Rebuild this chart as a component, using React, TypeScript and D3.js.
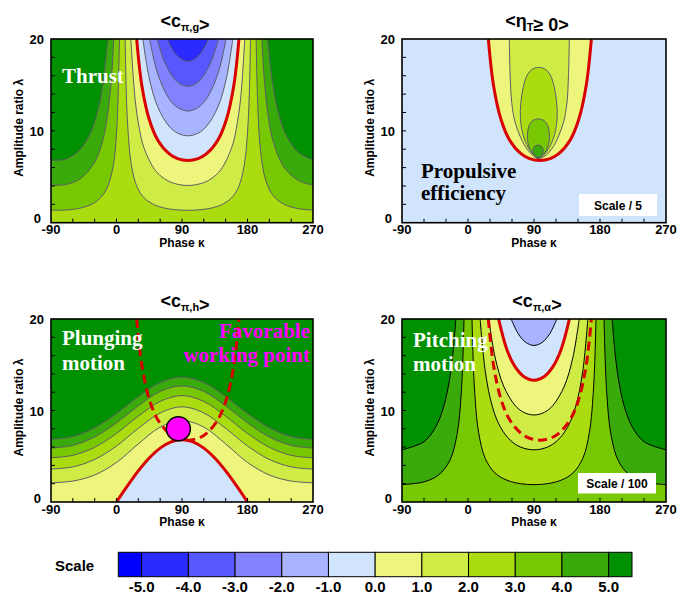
import React from 'react';
import * as d3 from 'd3';

type Pt = [number, number];

// colour of each band of the scale, index = lower level + 6
const bandColors = ['#0000FF', '#2B2BFF', '#5757FF', '#8282FF', '#A8B4FF', '#D0E4FC',
  '#EEF57C', '#CFEB45', '#AADC10', '#77C800', '#3AA90A', '#009000'];
const scaleLevels = [-5, -4, -3, -2, -1, 0, 1, 2, 3, 4, 5];
const phaseTicks = [-90, 0, 90, 180, 270];
const ratioTicks = [0, 10, 20];

// <c_pi,g> : contour lines as [phase kappa, amplitude ratio lambda]
const gLeft3: Pt[] = [[-90, 1.37], [-70, 1.38], [-50, 1.59], [-30, 2.19], [-15, 3.46], [-5, 6.0], [0, 9.7], [4.1, 20]];
const gLeft4: Pt[] = [[-90, 4.09], [-70, 4.15], [-50, 4.78], [-30, 6.58], [-20, 8.64], [-15, 10.37], [-8, 14.7], [-3.7, 20]];
const gLeft5: Pt[] = [[-90, 6.83], [-70, 6.91], [-50, 7.97], [-35, 9.91], [-25, 12.41], [-20, 14.4], [-11.75, 20]];
const gRight3: Pt[] = [[270, 1.37], [250, 1.53], [230, 2.02], [215, 2.98], [205, 4.62], [198, 7.78], [194, 12.9], [191.9, 20]];
const gRight4: Pt[] = [[270, 4.09], [250, 4.59], [230, 6.06], [215, 8.93], [208, 11.85], [203, 15.66], [199.7, 20]];
const gRight5: Pt[] = [[270, 6.83], [250, 7.65], [235, 9.24], [225, 11.22], [215, 14.88], [207.75, 20]];
const gU2: Pt[] = [[11.9, 20], [14.9, 11.26], [20.7, 6.14], [28.5, 3.86], [38, 2.7], [52.4, 1.93], [66.2, 1.59], [79.8, 1.42], [98, 1.35],
  [116.2, 1.42], [129.8, 1.59], [143.6, 1.93], [158, 2.7], [167.5, 3.86], [175.3, 6.14], [181.1, 11.26], [184.1, 20]];
const gU1: Pt[] = [[19.7, 20], [25.5, 13.5], [31.6, 10.14], [38, 8.11], [52.4, 5.79], [66.2, 4.77], [79.8, 4.27], [98, 4.05],
  [116.2, 4.27], [129.8, 4.77], [143.6, 5.79], [158, 8.11], [164.4, 10.14], [170.5, 13.5], [176.3, 20]];
const gU0: Pt[] = [[27.75, 20], [34.7, 15.0], [44.9, 11.26], [56.6, 9.01], [72.2, 7.51], [83.9, 6.97], [98, 6.76],
  [112.1, 6.97], [123.8, 7.51], [139.4, 9.01], [151.1, 11.26], [161.3, 15.0], [168.25, 20]];
const gUm1: Pt[] = [[36.2, 20], [44.9, 15.77], [56.6, 12.61], [72.2, 10.51], [83.9, 9.75], [98, 9.46],
  [112.1, 9.75], [123.8, 10.51], [139.4, 12.61], [151.1, 15.77], [159.8, 20]];
const gUm2: Pt[] = [[45.45, 20], [56.6, 16.22], [72.2, 13.51], [83.9, 12.54], [98, 12.16], [112.1, 12.54], [123.8, 13.51], [139.4, 16.22], [150.55, 20]];
const gUm3: Pt[] = [[56, 20], [66.2, 17.48], [79.8, 15.64], [89.9, 15.01], [98, 14.86], [106.1, 15.01], [116.2, 15.64], [129.8, 17.48], [140, 20]];
const gUm4: Pt[] = [[69.5, 20], [79.8, 18.49], [89.9, 17.75], [98, 17.57], [106.1, 17.75], [116.2, 18.49], [126.5, 20]];

// <eta_T >= 0>
const etaU1: Pt[] = [[56.3, 20], [57.5, 16], [59.6, 13.1], [64, 11], [70.9, 9.44], [78, 8.3], [84.5, 7.62], [90.5, 7.2], [97, 7.0],
  [103.5, 7.2], [110, 7.62], [116.5, 8.3], [123.6, 9.44], [130.5, 11], [135, 13.1], [137, 16], [138.2, 20]];
const etaEgg2: Pt[] = [[96.5, 7.05], [90, 7.35], [82, 8.2], [75, 9.6], [71.5, 11.3], [72, 13], [75.5, 14.8], [81, 16.1], [88.5, 16.75], [96.5, 16.9],
  [104.5, 16.75], [112, 16.1], [117.5, 14.8], [121, 13], [121.5, 11.3], [118, 9.6], [111, 8.2], [103, 7.35]];
const etaEgg3: Pt[] = [[96, 7.05], [91, 7.3], [85, 7.9], [81.5, 8.8], [81, 9.6], [83, 10.5], [88, 11.1], [96, 11.3],
  [104, 11.1], [109, 10.5], [111, 9.6], [110.5, 8.8], [107, 7.9], [101, 7.3]];
const etaEgg4: Pt[] = [[95.5, 7.0], [91.5, 7.2], [88.8, 7.6], [88.6, 8.0], [90.5, 8.3], [95.5, 8.45], [100.5, 8.3], [102.4, 8.0], [102.2, 7.6], [99.5, 7.2]];

// <c_pi,h> : lambda of each level at the phases of hPhase
const hPhase = [-90, -60, -30, 0, 30, 60, 90, 120, 150, 180, 210, 240, 270];
const hLevel1 = [2.1, 2.29, 2.95, 4.32, 6.35, 8.18, 8.9, 8.18, 6.35, 4.32, 2.95, 2.29, 2.1];
const hLevel2 = [3.6, 3.84, 4.65, 6.12, 8.05, 9.73, 10.4, 9.73, 8.05, 6.12, 4.65, 3.84, 3.6];
const hLevel3 = [4.83, 5.1, 5.98, 7.49, 9.38, 10.99, 11.63, 10.99, 9.38, 7.49, 5.98, 5.1, 4.83];
const hLevel4 = [5.89, 6.19, 7.11, 8.65, 10.51, 12.08, 12.69, 12.08, 10.51, 8.65, 7.11, 6.19, 5.89];
const hLevel5 = [6.85, 7.16, 8.12, 9.67, 11.52, 13.05, 13.65, 13.05, 11.52, 9.67, 8.12, 7.16, 6.85];
const hZeroPhase = [0, 15, 30, 45, 60, 75, 90, 105, 120, 135, 150, 165, 180];
const hZero = [0, 1.76, 3.4, 4.81, 5.89, 6.57, 6.8, 6.57, 5.89, 4.81, 3.4, 1.76, 0];
const workingPoint: Pt = [85, 8.0];

// <c_pi,alpha>
const aLeft4: Pt[] = [[-90, 1.9], [-60, 2.2], [-40, 2.96], [-25, 4.5], [-15, 7.35], [-9, 12.15], [-5.45, 20]];
const aLeft5: Pt[] = [[-90, 5.7], [-60, 6.59], [-45, 8.07], [-35, 9.94], [-27, 12.56], [-21, 15.91], [-16.56, 20]];
const aRight4: Pt[] = [[270, 1.9], [240, 2.2], [220, 2.96], [205, 4.5], [195, 7.35], [189, 12.15], [185.45, 20]];
const aRight5: Pt[] = [[270, 5.7], [240, 6.59], [225, 8.07], [215, 9.94], [207, 12.56], [201, 15.91], [196.56, 20]];
const aU3: Pt[] = [[5.45, 20], [8.63, 12.67], [14.48, 7.6], [23.58, 4.75], [36.87, 3.17], [53.13, 2.38], [71.8, 2.0], [90, 1.9],
  [108.2, 2.0], [126.87, 2.38], [143.13, 3.17], [156.42, 4.75], [165.52, 7.6], [171.37, 12.67], [174.55, 20]];
const aU2: Pt[] = [[16.56, 20], [23.58, 14.26], [33.37, 10.37], [44.43, 8.15], [58.21, 6.71], [71.8, 6.0], [90, 5.7],
  [108.2, 6.0], [121.79, 6.71], [135.57, 8.15], [146.63, 10.37], [156.42, 14.26], [163.44, 20]];
const aU1: Pt[] = [[28.38, 20], [36.87, 15.84], [48.59, 12.67], [64.16, 10.56], [75.93, 9.8], [90, 9.51],
  [104.07, 9.8], [115.84, 10.56], [131.41, 12.67], [143.13, 15.84], [151.62, 20]];
const aU0: Pt[] = [[41.72, 20], [53.13, 16.64], [64.16, 14.79], [75.93, 13.72], [90, 13.31], [104.07, 13.72], [115.84, 14.79], [126.87, 16.64], [138.28, 20]];
const aUm1: Pt[] = [[58.8, 20], [68.43, 18.4], [78.52, 17.46], [90, 17.11], [101.48, 17.46], [111.57, 18.4], [121.2, 20]];

const zip = (ks: number[], ls: number[]): Pt[] => ks.map((k, i) => [k, ls[i]]);

const sans = 'Liberation Sans, Arial, Helvetica, sans-serif';
const serif = 'Liberation Serif, Times New Roman, serif';
const RED = '#d80000';
const GREY = '#5c5c64';

type Close = 'top' | 'tl' | 'tr' | 'above' | 'loop' | 'bottom';
interface Region { pts: Pt[]; close: Close; band: number }
interface Iso { pts: Pt[]; closed?: boolean; color: string; width: number; dash?: string }
type Sc = d3.ScaleLinear<number, number>;

interface PanelProps {
  id: string; left: number; top: number; right: number; bottom: number;
  base: number; regions: Region[]; lines: Iso[]; title: React.ReactNode;
  extra?: (x: Sc, y: Sc) => React.ReactNode;
}

const Panel = ({ id, left, top, right, bottom, base, regions, lines, title, extra }: PanelProps) => {
  const x = d3.scaleLinear().domain([-90, 270]).range([left, right]);
  const y = d3.scaleLinear().domain([0, 20]).range([bottom, top]);
  const open = d3.line<Pt>().x(d => x(d[0])).y(d => y(d[1])).curve(d3.curveCatmullRom.alpha(0.5));
  const ring = d3.line<Pt>().x(d => x(d[0])).y(d => y(d[1])).curve(d3.curveCatmullRomClosed.alpha(0.5));

  const area = (r: Region) => {
    if (r.close === 'loop') return ring(r.pts) || '';
    let p = open(r.pts) || '';
    if (r.close === 'tl') p += `L${x(-90)},${y(20)}`;
    if (r.close === 'tr') p += `L${x(270)},${y(20)}`;
    if (r.close === 'above') p += `L${x(270)},${y(20)}L${x(-90)},${y(20)}`;
    return p + 'Z';
  };

  const cx = (left + right) / 2;
  const cy = (top + bottom) / 2;

  return (
    <g>
      <defs>
        <clipPath id={id}><rect x={left} y={top} width={right - left} height={bottom - top} /></clipPath>
      </defs>
      <g clipPath={`url(#${id})`}>
        <rect x={left} y={top} width={right - left} height={bottom - top} fill={bandColors[base]} />
        {regions.map((r, i) => <path key={i} d={area(r)} fill={bandColors[r.band]} />)}
        {lines.map((l, i) => (
          <path key={i} d={(l.closed ? ring(l.pts) : open(l.pts)) || ''} fill="none"
            stroke={l.color} strokeWidth={l.width} strokeDasharray={l.dash} />
        ))}
      </g>
      {d3.range(-60, 270, 30).map(k => (
        <line key={'xt' + k} x1={x(k)} x2={x(k)} y1={bottom} y2={bottom - 4} stroke="#000" strokeWidth={1} />
      ))}
      {d3.range(2, 20, 2).map(l => (
        <line key={'yt' + l} x1={left} x2={left + 4} y1={y(l)} y2={y(l)} stroke="#000" strokeWidth={1} />
      ))}
      <rect x={left} y={top} width={right - left} height={bottom - top} fill="none" stroke="#000" strokeWidth={1.6} />
      <g fontFamily={sans} fontWeight="bold" fill="#000">
        {phaseTicks.map(k => (
          <text key={'xl' + k} x={x(k)} y={bottom + 11.5} textAnchor="middle" fontSize={13}>{k}</text>
        ))}
        {ratioTicks.map(l => (
          <text key={'yl' + l} x={left - (l === 0 ? 10 : 7)} y={y(l) + (l === 0 ? 0.5 : 5)} textAnchor="end" fontSize={13}>{l}</text>
        ))}
        <text x={cx} y={bottom + 24} textAnchor="middle" fontSize={12}>Phase κ</text>
        <text transform={`translate(${left - 28},${cy - 3}) rotate(-90)`} textAnchor="middle" fontSize={12}>Amplitude ratio λ</text>
        <text x={cx + 3} y={top - 12} textAnchor="middle" fontSize={18}>{title}</text>
      </g>
      {extra && extra(x, y)}
    </g>
  );
};

const Sub = ({ children }: { children: React.ReactNode }) => (
  <>
    <tspan fontSize={11} dy={4}>{children}</tspan>
    <tspan dy={-4}></tspan>
  </>
);

const grey = (pts: Pt[], closed = false): Iso => ({ pts, closed, color: GREY, width: 1 });
const black = (pts: Pt[]): Iso => ({ pts, color: '#000', width: 1 });
const redLine = (pts: Pt[]): Iso => ({ pts, color: RED, width: 3 });
const redDash = (pts: Pt[]): Iso => ({ pts, color: RED, width: 3, dash: '9 5' });

const ScaleBox = ({ x, y, w, h, label }: { x: number; y: number; w: number; h: number; label: string }) => (
  <g>
    <rect x={x} y={y} width={w} height={h} fill="#fff" />
    <text x={x + w / 2} y={y + h / 2 + 4.5} textAnchor="middle" fontFamily={sans} fontWeight="bold" fontSize={12}>{label}</text>
  </g>
);

const App = () => {
  const hBells = [hLevel1, hLevel2, hLevel3, hLevel4, hLevel5].map(ls => zip(hPhase, ls));
  const hDome = zip(hZeroPhase, hZero);

  const cb = d3.scaleLinear().domain([-5.5, 5.5]).range([118.3, 632]);
  const edges = [-5.5, ...scaleLevels, 5.5];

  return (
    <svg width={680} height={599} style={{ position: 'absolute', left: 0, top: 0, background: '#fff' }}>
      <Panel id="p1" left={51} top={39} right={313} bottom={222.7} base={8}
        title={<>&lt;c<Sub>π,g</Sub>&gt;</>}
        regions={[
          { pts: gLeft3, close: 'tl', band: 9 }, { pts: gRight3, close: 'tr', band: 9 },
          { pts: gLeft4, close: 'tl', band: 10 }, { pts: gRight4, close: 'tr', band: 10 },
          { pts: gLeft5, close: 'tl', band: 11 }, { pts: gRight5, close: 'tr', band: 11 },
          { pts: gU2, close: 'top', band: 7 }, { pts: gU1, close: 'top', band: 6 },
          { pts: gU0, close: 'top', band: 5 }, { pts: gUm1, close: 'top', band: 4 },
          { pts: gUm2, close: 'top', band: 3 }, { pts: gUm3, close: 'top', band: 2 },
          { pts: gUm4, close: 'top', band: 1 },
        ]}
        lines={[
          ...[gLeft3, gLeft4, gLeft5, gRight3, gRight4, gRight5, gU2, gU1, gUm1, gUm2, gUm3, gUm4].map(p => grey(p)),
          redLine(gU0),
        ]}
        extra={() => (
          <text x={62} y={83} fontFamily={serif} fontWeight="bold" fontSize={21} fill="#fff">Thrust</text>
        )}
      />

      <Panel id="p2" left={402} top={39} right={666} bottom={222.7} base={5}
        title={<>&lt;η<Sub>T</Sub>≥ 0&gt;</>}
        regions={[
          { pts: gU0, close: 'top', band: 6 }, { pts: etaU1, close: 'top', band: 7 },
          { pts: etaEgg2, close: 'loop', band: 8 }, { pts: etaEgg3, close: 'loop', band: 9 },
          { pts: etaEgg4, close: 'loop', band: 10 },
        ]}
        lines={[grey(etaU1), grey(etaEgg2, true), grey(etaEgg3, true), grey(etaEgg4, true), redLine(gU0)]}
        extra={() => (
          <g>
            <g fontFamily={serif} fontWeight="bold" fontSize={21} fill="#000">
              <text x={421} y={178}>Propulsive</text>
              <text x={421} y={200}>efficiency</text>
            </g>
            <ScaleBox x={579} y={194} w={78} h={22} label="Scale / 5" />
          </g>
        )}
      />

      <Panel id="p3" left={51} top={319} right={313} bottom={502} base={6}
        title={<>&lt;c<Sub>π,h</Sub>&gt;</>}
        regions={[
          ...hBells.map((pts, i) => ({ pts, close: 'above' as Close, band: 7 + i })),
          { pts: hDome, close: 'bottom', band: 5 },
        ]}
        lines={[...hBells.map(p => grey(p)), redLine(hDome), redDash(gU0)]}
        extra={(x, y) => (
          <g>
            <circle cx={x(workingPoint[0])} cy={y(workingPoint[1])} r={12} fill="#ff00ff" stroke="#000" strokeWidth={1.5} />
            <g fontFamily={serif} fontWeight="bold" fontSize={21} fill="#fff">
              <text x={62} y={345}>Plunging</text>
              <text x={62} y={370}>motion</text>
            </g>
            <g fontFamily={serif} fontWeight="bold" fontSize={21} fill="#ff00ff" textAnchor="end">
              <text x={310} y={338}>Favorable</text>
              <text x={310} y={362}>working point</text>
            </g>
          </g>
        )}
      />

      <Panel id="p4" left={402} top={319} right={666} bottom={502} base={9}
        title={<>&lt;c<Sub>π,α</Sub>&gt;</>}
        regions={[
          { pts: aLeft4, close: 'tl', band: 10 }, { pts: aRight4, close: 'tr', band: 10 },
          { pts: aLeft5, close: 'tl', band: 11 }, { pts: aRight5, close: 'tr', band: 11 },
          { pts: aU3, close: 'top', band: 8 }, { pts: aU2, close: 'top', band: 7 },
          { pts: aU1, close: 'top', band: 6 }, { pts: aU0, close: 'top', band: 5 },
          { pts: aUm1, close: 'top', band: 4 },
        ]}
        lines={[...[aLeft4, aLeft5, aRight4, aRight5, aU3, aU2, aU1, aUm1].map(black), redLine(aU0), redDash(gU0)]}
        extra={() => (
          <g>
            <g fontFamily={serif} fontWeight="bold" fontSize={21} fill="#fff">
              <text x={413} y={347}>Pitching</text>
              <text x={413} y={371}>motion</text>
            </g>
            <ScaleBox x={578} y={473} w={78} h={20.5} label="Scale / 100" />
          </g>
        )}
      />

      <g>
        <text x={55} y={571} fontFamily={sans} fontWeight="bold" fontSize={15}>Scale</text>
        {bandColors.map((c, i) => (
          <rect key={c} x={cb(edges[i])} y={552.3} width={cb(edges[i + 1]) - cb(edges[i])} height={24.4}
            fill={c} stroke="#000" strokeWidth={1} />
        ))}
        {scaleLevels.map(v => (
          <text key={v} x={cb(v)} y={592} textAnchor="middle" fontFamily={sans} fontWeight="bold" fontSize={15}>
            {v.toFixed(1)}
          </text>
        ))}
      </g>
    </svg>
  );
};

export default App;
